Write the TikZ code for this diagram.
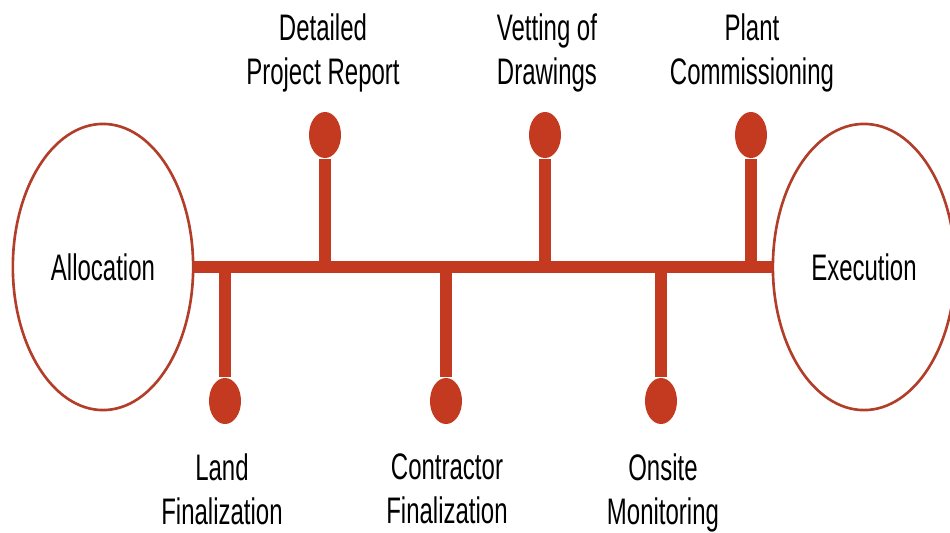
\documentclass[tikz,border=0pt]{standalone}
\usepackage{fontspec}
\setmainfont{Liberation Sans}[FakeStretch=0.65]
\usetikzlibrary{shapes.geometric}
\definecolor{brick}{RGB}{196,58,32}
\definecolor{rim}{RGB}{178,62,42}
\tikzset{
  phase/.style={ellipse, draw=rim, line width=0.75pt, minimum width=1.78cm, minimum height=2.86cm, font=\fontsize{10.5}{12.5}\selectfont},
  bulb/.style={ellipse, fill=brick, inner sep=0pt, minimum width=0.32cm, minimum height=0.46cm},
  stem/.style={draw=brick, line width=3.4pt},
  milestone/.style={align=center, anchor=north, font=\fontsize{10.5}{12.5}\selectfont}
}
\begin{document}
\begin{tikzpicture}[x=0.01cm, y=-0.01cm]
\useasboundingbox (0,0) rectangle (950,533);

% Start and end
\node[phase] (alloc) at (103,267) {Allocation};
\node[phase] (exec) at (864,267) {Execution};

% Spine
\draw[stem] (alloc.east) -- (exec.west);

% Points on the spine
\coordinate (s1) at (225,267);
\coordinate (s2) at (325,267);
\coordinate (s3) at (446,267);
\coordinate (s4) at (545,267);
\coordinate (s5) at (661,267);
\coordinate (s6) at (751,267);

% Bulbs
\node[bulb] (b1) at (225,401) {};
\node[bulb] (b2) at (325,135) {};
\node[bulb] (b3) at (446,401) {};
\node[bulb] (b4) at (545,135) {};
\node[bulb] (b5) at (661,401) {};
\node[bulb] (b6) at (751,135) {};

% Stems
\draw[stem] (s1) -- (b1);
\draw[stem] (s2) -- (b2);
\draw[stem] (s3) -- (b3);
\draw[stem] (s4) -- (b4);
\draw[stem] (s5) -- (b5);
\draw[stem] (s6) -- (b6);

% Milestone labels
\node[milestone] (l1) at (222,441) {Land\\Finalization};
\node[milestone] (l2) at (323,1) {Detailed\\Project Report};
\node[milestone] (l3) at (447,441) {Contractor\\Finalization};
\node[milestone] (l4) at (547,1) {Vetting of\\Drawings};
\node[milestone] (l5) at (663,441) {Onsite\\Monitoring};
\node[milestone] (l6) at (752,1) {Plant\\Commissioning};

\end{tikzpicture}
\end{document}
